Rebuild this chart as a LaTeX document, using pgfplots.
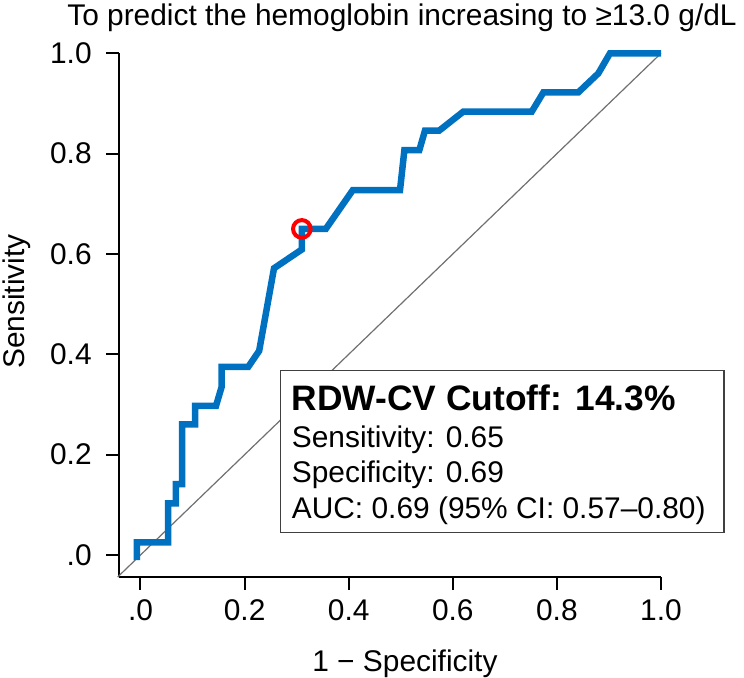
\documentclass[border=0pt]{standalone}
\usepackage{fontspec}
\setmainfont{Liberation Sans}
\usepackage{pgfplots}
\pgfplotsset{compat=1.18}
\definecolor{rocblue}{HTML}{0070C0}
\definecolor{boxgray}{HTML}{404040}
\definecolor{refgray}{HTML}{707070}

\begin{document}
\begin{tikzpicture}[font=\fontsize{30}{36}\selectfont]
\useasboundingbox (-140.5bp,-123bp) rectangle (603.5bp,555bp);
\begin{axis}[
  at={(0,0)}, anchor=origin,
  x=520.5bp, y=501.7bp,
  xmin=-0.041, xmax=1, ymin=-0.044, ymax=1,
  clip=false,
  axis lines=left,
  axis line style={-, line width=2bp, black},
  tick align=outside,
  major tick length=13bp,
  tick style={line width=2bp, black},
  xtick={0,0.2,0.4,0.6,0.8,1},
  ytick={0,0.2,0.4,0.6,0.8,1},
  xticklabels={.0,0.2,0.4,0.6,0.8,1.0},
  yticklabels={.0,0.2,0.4,0.6,0.8,1.0},
  xticklabel style={yshift=-6bp},
  yticklabel style={xshift=-11bp},
  /pgf/number format/assume math mode=true,
  xlabel={1 − Specificity},
  xlabel style={at={(axis cs:0.508,-0.233)}, anchor=base, inner sep=0pt},
  ylabel={Sensitivity},
  ylabel style={at={(axis cs:-0.238,0.505)}, anchor=center, inner sep=0pt},
]
% chance line
\addplot[refgray, line width=1.2bp] coordinates {(-0.044,-0.044) (1,1)};

% summary box
\draw[draw=boxgray, line width=1.5bp, fill=white]
  (axis cs:0.2694,0.0444) rectangle (axis cs:1.121,0.3674);
\node[anchor=base west, inner sep=0pt, font=\fontsize{35.5}{40}\selectfont\bfseries]
  at (axis cs:0.2905,0.289) {RDW-CV Cutoff: 14.3\%};
\node[anchor=base west, inner sep=0pt] at (axis cs:0.2905,0.2147) {Sensitivity: 0.65};
\node[anchor=base west, inner sep=0pt] at (axis cs:0.2905,0.1455) {Specificity: 0.69};
\node[anchor=base west, inner sep=0pt] at (axis cs:0.2905,0.0732) {AUC: 0.69 (95\% CI: 0.57–0.80)};

% ROC curve
\addplot[rocblue, line width=6.5bp] coordinates {
  (-0.007,-0.010) (-0.007,0.025) (0.053,0.025) (0.053,0.103)
  (0.068,0.103) (0.068,0.1415) (0.080,0.1415) (0.080,0.2605)
  (0.105,0.2605) (0.105,0.297) (0.145,0.297) (0.156,0.3355)
  (0.156,0.375) (0.207,0.375) (0.228,0.407) (0.2565,0.5715)
  (0.31,0.609) (0.31,0.65) (0.356,0.65) (0.408,0.7275)
  (0.4986,0.7275) (0.507,0.807) (0.5357,0.807) (0.5466,0.846)
  (0.574,0.846) (0.620,0.8836) (0.7516,0.8836) (0.774,0.922)
  (0.841,0.922) (0.8796,0.960) (0.902,1.0) (1.0,1.0)
};

% optimal cutoff
\addplot[only marks, mark=o, mark size=8.8bp,
  mark options={draw=red, line width=4bp}] coordinates {(0.31,0.65)};
\end{axis}
% title
\node[anchor=base, inner sep=0pt] at (261.5bp,529bp)
  {To predict the hemoglobin increasing to ≥13.0 g/dL};
\end{tikzpicture}
\end{document}
